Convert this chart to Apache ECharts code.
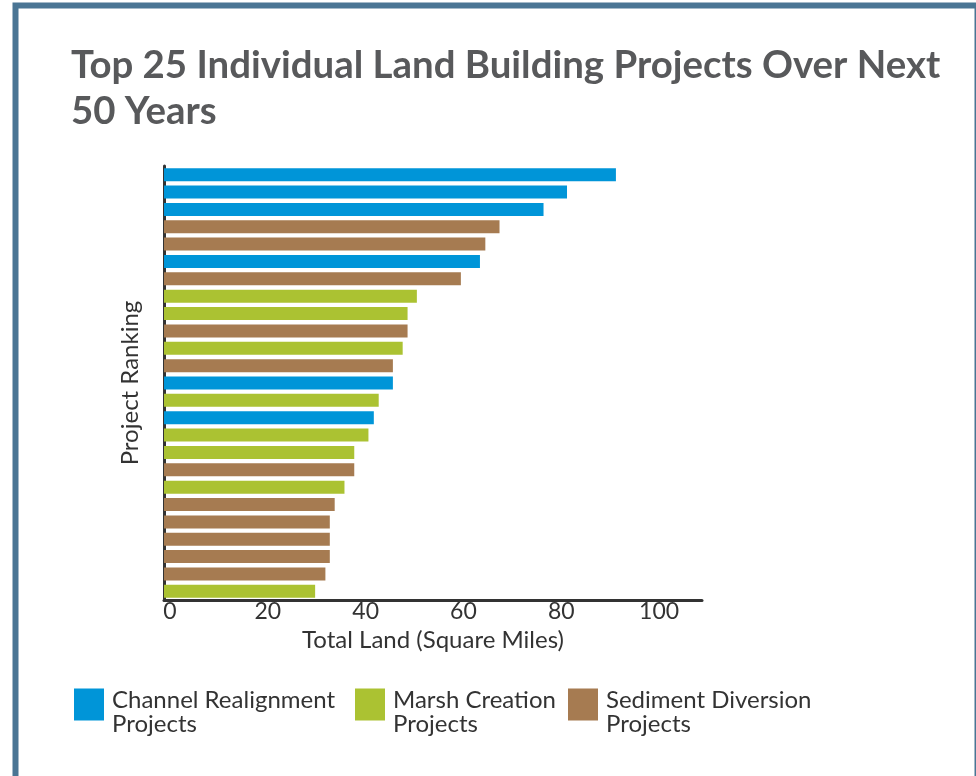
<!DOCTYPE html>
<html>
<head>
<meta charset="utf-8">
<script src="https://cdn.jsdelivr.net/npm/echarts@6/dist/echarts.min.js"></script>
<style>
  html, body { margin: 0; padding: 0; background: #ffffff; }
  #chart { width: 976px; height: 776px; }
</style>
</head>
<body>
<div id="chart"></div>
<script>
// Project ranks 1..25 (top to bottom)
const ranks = ['1','2','3','4','5','6','7','8','9','10','11','12','13','14','15','16','17','18','19','20','21','22','23','24','25'];

// Total land built over 50 years, square miles
const landArea = [92.4, 82.4, 77.6, 68.6, 65.7, 64.6, 60.7, 51.7, 49.8, 49.8,
                  48.8, 46.8, 46.8, 43.9, 42.9, 41.8, 38.9, 38.9, 36.9, 34.9,
                  33.9, 33.9, 33.9, 33.0, 30.9];

// Project type for each rank: C = channel realignment, M = marsh creation, S = sediment diversion
const projectType = ['C','C','C','S','S','C','S','M','M','S',
                     'M','S','C','M','C','M','M','S','M','S',
                     'S','S','S','S','M'];

const typeCodes = ['C', 'M', 'S'];
const typeNames = ['Channel Realignment\nProjects', 'Marsh Creation\nProjects', 'Sediment Diversion\nProjects'];
const typeColors = ['#0095d8', '#abc232', '#a67b51'];

// x-axis ticks
const xTicks = [0, 20, 40, 60, 80, 100];

const chart = echarts.init(document.getElementById('chart'));
const FONT = 'Lato, "Noto Sans", sans-serif';

const series = typeCodes.map((code, i) => ({
  name: typeNames[i],
  type: 'bar',
  stack: 'rank',
  barWidth: 13,
  itemStyle: { color: typeColors[i] },
  data: landArea.map((v, k) => projectType[k] === code ? v : '-')
}));

const legendLefts = [74, 355, 568];

chart.setOption({
  animation: false,
  title: {
    text: 'Top 25 Individual Land Building Projects Over Next\n50 Years',
    left: 71,
    top: 43,
    padding: 0,
    textStyle: {
      fontFamily: 'Lato, sans-serif',
      fontWeight: 'bold',
      fontSize: 38.4,
      lineHeight: 46,
      color: '#58595b'
    }
  },
  legend: typeNames.map((name, i) => ({
    data: [name],
    left: legendLefts[i],
    top: 673,
    padding: 0,
    orient: 'horizontal',
    itemWidth: 30,
    itemHeight: 32,
    icon: 'rect',
    selectedMode: false,
    // a short spacer line above the label lowers the text beside the swatch
    formatter: n => '{s| }\n' + n,
    textStyle: {
      fontFamily: FONT,
      fontSize: 24,
      lineHeight: 24,
      color: '#333333',
      padding: [0, 0, 0, 3],
      rich: { s: { fontSize: 10, lineHeight: 15 } }
    }
  })),
  grid: {
    left: 164,
    right: 274,
    top: 166,
    bottom: 176,
    containLabel: false
  },
  xAxis: {
    type: 'value',
    min: 0,
    max: 110,
    interval: 20,
    name: 'Total Land (Square Miles)',
    nameLocation: 'middle',
    nameGap: 24,
    nameTextStyle: { fontFamily: FONT, fontSize: 24, color: '#333333' },
    axisLine: { show: true, lineStyle: { color: '#333333', width: 3 } },
    axisTick: { show: false },
    splitLine: { show: false },
    axisLabel: {
      showMaxLabel: false,
      margin: 0,
      fontFamily: FONT,
      fontSize: 23,
      color: '#333333',
      padding: [0, 0, 0, 12],
      formatter: v => xTicks.includes(v) ? String(v) : ''
    }
  },
  yAxis: {
    type: 'category',
    data: ranks,
    inverse: true,
    name: 'Project Ranking',
    nameLocation: 'middle',
    nameRotate: 90,
    nameGap: 22,
    nameTextStyle: { fontFamily: FONT, fontSize: 24, color: '#333333' },
    axisLine: { show: true, lineStyle: { color: '#333333', width: 3 } },
    axisTick: { show: false },
    axisLabel: { show: false },
    splitLine: { show: false }
  },
  series: series,
  graphic: [{
    type: 'rect',
    shape: { x: 15.5, y: 5.5, width: 962, height: 800 },
    style: { fill: 'none', stroke: '#4a7594', lineWidth: 6 },
    silent: true,
    z: 100
  }]
});
</script>
</body>
</html>
